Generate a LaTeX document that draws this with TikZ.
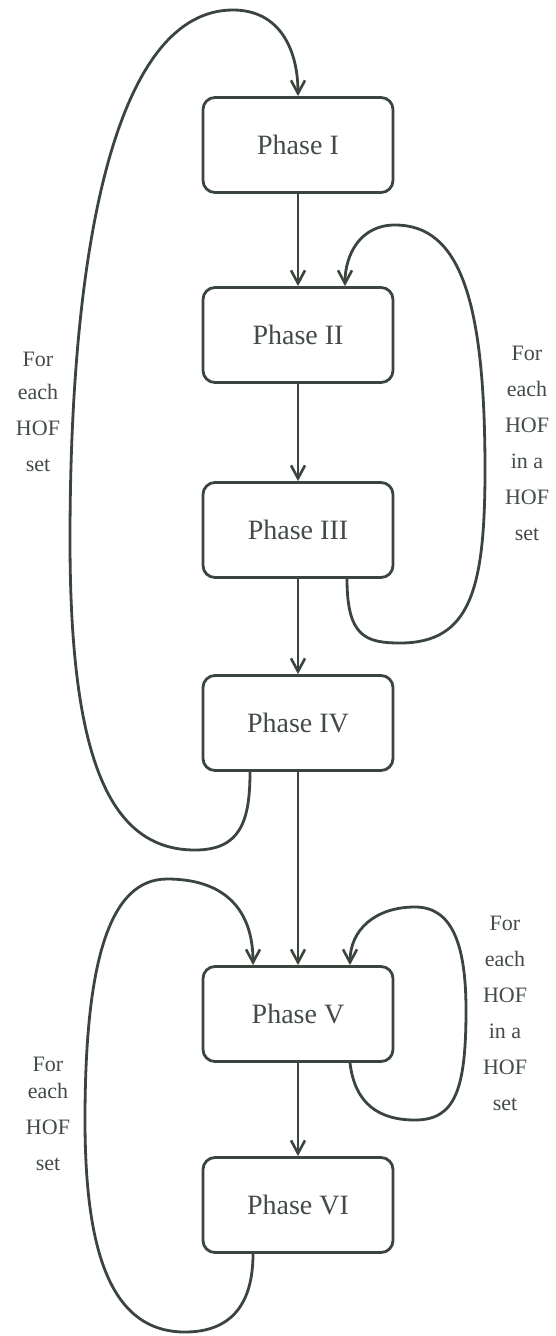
\documentclass[tikz,border=0pt]{standalone}
\usepackage{fontspec}
\setmainfont{Liberation Serif}
\newfontfamily\serfont{Liberation Serif}
\usetikzlibrary{arrows.meta}
\definecolor{ink}{HTML}{3A453D}
\definecolor{txt}{HTML}{434B45}
\tikzset{
  phasebox/.style={draw=ink, line width=2.8pt, rounded corners=12pt, minimum width=190pt, minimum height=95pt, inner sep=0pt, text=txt, font=\serfont\fontsize{28}{30}\selectfont},
  flow/.style={draw=ink, line width=2.8pt, -{Straight Barb[length=13pt,width=14pt,line width=2.6pt]}},
  looplabel/.style={text=txt, align=center, inner sep=0pt, font=\serfont\fontsize{22}{36}\selectfont},
}
\begin{document}
\begin{tikzpicture}[x=1pt,y=-1pt]
\useasboundingbox (0,0) rectangle (555,1336);
\node[phasebox] (p1) at (298,145) {Phase I};
\node[phasebox] (p2) at (298,335) {Phase II};
\node[phasebox] (p3) at (298,530) {Phase III};
\node[phasebox] (p4) at (298,723) {Phase IV};
\node[phasebox] (p5) at (298,1014) {Phase V};
\node[phasebox] (p6) at (298,1205) {Phase VI};

\draw[flow] (p1) -- (p2);
\draw[flow] (p2) -- (p3);
\draw[flow] (p3) -- (p4);
\draw[flow] (p4) -- (p5);
\draw[flow] (p5) -- (p6);

% outer loop IV -> I
\coordinate (a4) at ([xshift=-48pt]p4.south);
\draw[flow] (a4) .. controls +(0,50) and (240,850) .. (195,850)
  .. controls (110,850) and (70,760) .. (70,540)
  .. controls (70,230) and (120,10) .. (233,10)
  .. controls (280,10) and (298,50) .. (p1.north);

% inner loop III -> II
\coordinate (a3) at ([xshift=49pt]p3.south);
\coordinate (b2) at ([xshift=47pt]p2.north);
\draw[flow] (a3) .. controls +(0,57) and (365,643) .. (400,643)
  .. controls (470,643) and (485,590) .. (485,470)
  .. controls (485,300) and (460,225) .. (395,225)
  .. controls (360,225) and (345,255) .. (b2);

% outer loop VI -> V
\coordinate (a6) at ([xshift=-45pt]p6.south);
\coordinate (b5) at ([xshift=-45pt]p5.north);
\draw[flow] (a6) .. controls +(0,57) and (225,1332) .. (185,1332)
  .. controls (110,1332) and (85,1250) .. (85,1120)
  .. controls (85,960) and (110,879) .. (167,879)
  .. controls (225,879) and (253,910) .. (b5);

% inner loop V -> V
\coordinate (a5) at ([xshift=52pt]p5.south);
\coordinate (c5) at ([xshift=52pt]p5.north);
\draw[flow] (a5) .. controls +(5,42) and (380,1120) .. (415,1120)
  .. controls (455,1120) and (466,1090) .. (466,1010)
  .. controls (466,940) and (450,907) .. (415,907)
  .. controls (375,907) and (350,930) .. (c5);

\node[looplabel] (l1) at (38,412) {For\\[-3pt]each\\HOF\\set};
\node[looplabel] (l2) at (527,443) {For\\each\\HOF\\in a\\HOF\\set};
\node[looplabel] (l3) at (505,1013) {For\\each\\HOF\\in a\\HOF\\set};
\node[looplabel] (l4) at (48,1114) {For\\[-9pt]each\\HOF\\set};
\end{tikzpicture}
\end{document}
